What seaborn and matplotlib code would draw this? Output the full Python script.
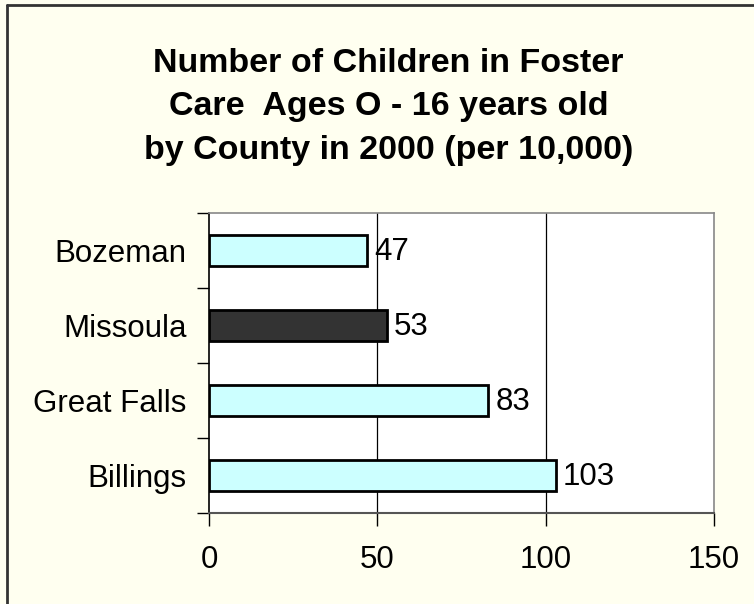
import pandas as pd
import numpy as np
import matplotlib
matplotlib.use("Agg")
import matplotlib.pyplot as plt
import seaborn as sns
from matplotlib.lines import Line2D

## Dados
condados = ["Bozeman", "Missoula", "Great Falls", "Billings"]
valores = [47, 53, 83, 103]
cores = ["#CCFFFF", "#333333", "#CCFFFF", "#CCFFFF"]
xticks = [0, 50, 100, 150]

df = pd.DataFrame({"condado": condados, "valor": valores})

sns.set_theme(style="white")
plt.rcParams["font.family"] = ["Liberation Sans", "DejaVu Sans"]

fig = plt.figure(figsize=(7.54, 6.04), dpi=100, facecolor="#FFFFF0")
ax = fig.add_axes([209 / 754, 1 - 513 / 604, 505 / 754, 300 / 604])
ax.set_facecolor("white")

sns.barplot(data=df, y="condado", x="valor", hue="condado", palette=cores,
            orient="h", width=0.41, edgecolor="black", linewidth=2,
            saturation=1, legend=False, ax=ax)

ax.set_xlim(0, 150)
ax.set_ylim(3.5, -0.5)
ax.set_xticks(xticks)
ax.set_xlabel("")
ax.set_ylabel("")

## rótulos de valor
for i, v in enumerate(valores):
    ax.text(v + 2, i + 0.02, str(v), va="center", ha="left", fontsize=22.5, color="black")

## grade vertical
for g in [50, 100]:
    ax.axvline(g, color="black", linewidth=0.9, zorder=0)

## ticks: y nas fronteiras entre categorias
ax.set_yticks(np.arange(len(condados)))
ax.set_yticks(np.arange(-0.5, len(condados)), minor=True)
ax.tick_params(axis="y", which="major", length=0, pad=16, labelsize=22.5, labelcolor="black")
ax.tick_params(axis="y", which="minor", length=9, width=1, color="black", direction="out", left=True)
ax.tick_params(axis="x", which="major", length=9, width=1, color="black", direction="out",
               bottom=True, pad=14, labelsize=22.5, labelcolor="black")

for lado in ["top", "right"]:
    ax.spines[lado].set_color("#888888")
    ax.spines[lado].set_linewidth(1.2)
ax.spines["left"].set_color("black")
ax.spines["bottom"].set_color("#555555")
ax.spines["left"].set_linewidth(1.2)
ax.spines["bottom"].set_linewidth(1.5)

## título
fig.text(0.515, 1 - 107 / 604,
         "Number of Children in Foster\nCare  Ages O - 16 years old\nby County in 2000 (per 10,000)",
         ha="center", va="center", fontsize=24.5, fontweight="bold", linespacing=1.5,
         color="black")

## moldura (só topo e esquerda visíveis)
fig.add_artist(Line2D([7 / 754, 7 / 754], [0, 1 - 5 / 604], transform=fig.transFigure,
                      color="#333333", linewidth=2))
fig.add_artist(Line2D([7 / 754, 1], [1 - 5 / 604, 1 - 5 / 604], transform=fig.transFigure,
                      color="#333333", linewidth=2))

fig.savefig("out.png", dpi=100, facecolor=fig.get_facecolor())
